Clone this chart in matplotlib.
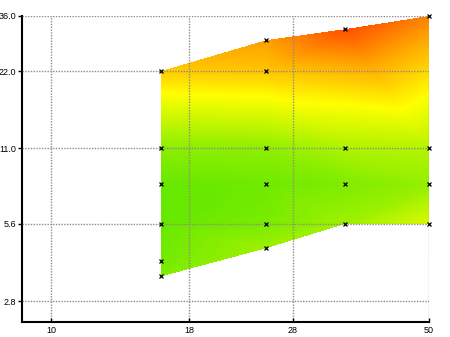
import numpy as np
import matplotlib
matplotlib.use('Agg')
import matplotlib.pyplot as plt
import matplotlib.tri as mtri
from matplotlib.path import Path
from matplotlib.colors import LinearSegmentedColormap

# data
x_vals = [16, 16, 16, 16, 16, 16, 25, 25, 25, 25, 25, 25, 35, 35, 35, 35, 50, 50, 50, 50]
y_vals = [22, 11, 8, 5.6, 4, 3.5, 29, 22, 11, 8, 5.6, 4.5, 32, 11, 8, 5.6, 36, 11, 8, 5.6]
z_vals = [0.65, 0.14, 0.03, 0.03, 0.07, 0.105,
          0.78, 0.67, 0.155, 0.055, 0.09, 0.2,
          0.97, 0.25, 0.105, 0.2,
          0.85, 0.27, 0.17, 0.39]
x_ticks = [10, 18, 28, 50]
x_tick_labels = ['10', '18', '28', '50']
y_ticks = [2.8, 5.6, 11.0, 22.0, 36.0]
y_tick_labels = ['2.8', '5.6', '11.0', '22.0', '36.0']

plt.rcParams['font.family'] = ['Liberation Sans', 'DejaVu Sans']

cmap = LinearSegmentedColormap.from_list('gyr', [(0.0, '#5ee800'), (0.5, '#ffff00'),
                                                 (0.75, '#ffaa00'), (1.0, '#ff4400')])

xs = np.array(x_vals, float)
ys = np.array(y_vals, float)
zs = np.array(z_vals, float)
lx = np.log10(xs)
ly = np.log10(ys)

tri_log = mtri.Triangulation(lx, ly)
interp = mtri.LinearTriInterpolator(tri_log, zs)

# outline: lowest and highest point of every column
cols = sorted(set(x_vals))
bottom = [(np.log10(c), np.log10(min(y for x, y in zip(x_vals, y_vals) if x == c))) for c in cols]
top = [(np.log10(c), np.log10(max(y for x, y in zip(x_vals, y_vals) if x == c))) for c in cols]
outline = Path(bottom + top[::-1] + [bottom[0]])

fig = plt.figure(figsize=(4.5, 3.37), dpi=100)
ax = fig.add_axes([22 / 450, 15 / 337, 407 / 450, 306 / 337])

x0, x1 = np.log10(8.84), np.log10(50)
y0, y1 = np.log10(2.326), np.log10(36)
nx, ny = 407, 306
gx = x0 + (np.arange(nx) + 0.5) * (x1 - x0) / nx
gy = y0 + (np.arange(ny) + 0.5) * (y1 - y0) / ny
GX, GY = np.meshgrid(gx, gy)
Z = interp(GX, GY)
inside = outline.contains_points(np.column_stack([GX.ravel(), GY.ravel()]), radius=1e-4).reshape(GX.shape)
Z = np.ma.masked_where(~inside | np.ma.getmaskarray(Z), Z)

ax.imshow(Z, origin='lower', extent=[x0, x1, y0, y1], aspect='auto',
          interpolation='nearest', cmap=cmap, vmin=0, vmax=1, zorder=1)
ax.plot(lx, ly, linestyle='none', marker='x', color='black', markersize=2.5,
        markeredgewidth=0.9, zorder=4, clip_on=False)

ax.set_xlim(x0, x1)
ax.set_ylim(y0, y1)
ax.set_xticks(np.log10(x_ticks))
ax.set_xticklabels(x_tick_labels)
ax.set_yticks(np.log10(y_ticks))
ax.set_yticklabels(y_tick_labels)
ax.grid(True, color='#8c8c8c', linestyle=(0, (1, 1)), linewidth=1, zorder=3)
ax.set_axisbelow(False)
for s in ['top', 'right']:
    ax.spines[s].set_visible(False)
for s in ['left', 'bottom']:
    ax.spines[s].set_linewidth(1.5)
    ax.spines[s].set_color('black')
ax.tick_params(axis='y', direction='out', length=3, width=1, labelsize=6.5, pad=1)
ax.tick_params(axis='x', direction='in', length=3, width=1, labelsize=6.5, pad=3)

fig.savefig('out.png', dpi=100)
